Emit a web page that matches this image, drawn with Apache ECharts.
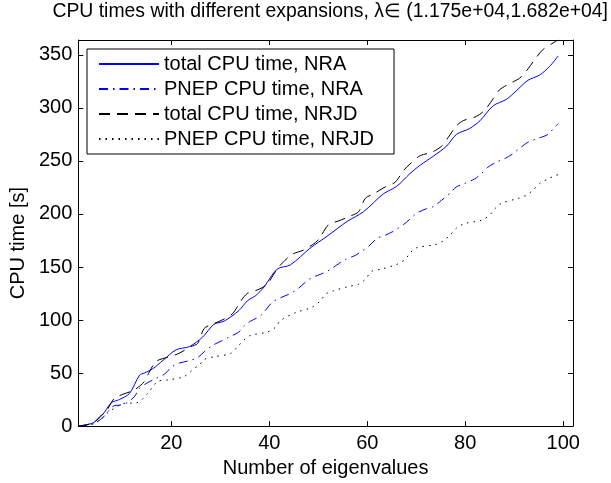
<!DOCTYPE html>
<html>
<head>
<meta charset="utf-8">
<script src="https://cdn.jsdelivr.net/npm/echarts@6/dist/echarts.min.js"></script>
<style>html,body{margin:0;padding:0;background:#fff}#c{width:611px;height:483px}</style>
</head>
<body>
<div id="c"></div>
<script>
// ---- data ----
const seriesNames = ['total CPU time, NRA', 'PNEP CPU time, NRA', 'total CPU time, NRJD', 'PNEP CPU time, NRJD'];
const xTicks = [20, 40, 60, 80, 100];

const totalNRA_x = [1, 4, 6, 7.75, 9.4, 11.5, 13.5, 14.5, 16.2, 18.3, 21, 23.7, 26.4, 28.7, 30.8, 33.8, 35.5, 37.2, 38.9, 41.6, 44.3, 48.4, 51.8, 55.9, 59.2, 63.3, 66, 68.7, 70.8, 73.5, 76.2, 78.2, 80.9, 83, 85.7, 88.4, 90.4, 92.8, 95.2, 97.2, 99];
const totalNRA_y = [0, 3, 11, 22, 25, 31, 48, 50, 54, 62, 72, 75, 84, 96, 99, 109, 118, 123, 131, 148, 152, 168, 179, 193, 202, 219, 226, 238, 246, 254.5, 264, 275, 280.6, 287.8, 302, 308, 316, 326, 331, 339, 349];

const pnepNRA_x = [1, 4, 6, 8.1, 9.8, 11.1, 12.5, 13.5, 15.2, 16.9, 18.6, 20, 21.3, 23.3, 25.4, 26.7, 28.4, 30.1, 31.8, 33.8, 34.8, 36.2, 38.2, 40.6, 42.3, 44, 45.7, 47.7, 48.7, 50.4, 52.5, 53.8, 55.5, 57.6, 58.9, 60.3, 62, 63.7, 65.3, 67.4, 68.7, 70.1, 72.1, 73.5, 75.2, 77.2, 78.2, 79.9, 81.9, 83.3, 84.6, 86.4, 88, 89.7, 91.4, 92.8, 94.5, 96.9, 98.2, 99];
const pnepNRA_y = [0, 2, 8, 18.7, 20, 22.4, 28, 35.7, 41, 45, 49, 55.4, 59, 61.3, 64.7, 70, 76, 80, 84, 88.7, 94, 99, 104, 116.7, 121, 124.4, 129, 137, 140, 143, 147.7, 152, 157, 161, 165, 169.6, 177, 180, 183.6, 190, 195, 200.7, 205, 207, 213, 221, 225.6, 228.7, 233, 238, 244, 249, 252, 256.7, 263, 267.6, 270.7, 275, 281.6, 285];

const totalNRJD_x = [1, 4, 5.4, 6.7, 8.4, 10.1, 12.4, 14.5, 15.5, 16.9, 19.3, 21.3, 24, 25.4, 26.7, 28.4, 30.8, 32.5, 34.2, 35.5, 37.9, 39.6, 41.3, 42.7, 44.7, 47, 48.8, 50.1, 52.1, 54.2, 56.2, 58.2, 59.6, 61.3, 63.7, 65.7, 67.4, 68.7, 70.8, 73.1, 75.2, 76.5, 78.2, 79.6, 82.3, 84, 85.7, 87, 89.1, 91.1, 92.8, 94.1, 95.8, 97.5, 99];
const totalNRJD_y = [0, 3, 9, 14, 26.4, 30, 34, 42, 51, 61, 65, 68, 75, 78, 92, 96, 101, 106, 118, 125, 129, 134, 146, 154, 162, 166, 171, 176, 190, 193.5, 197.5, 202, 214.7, 219, 225.6, 230, 241, 247, 255, 258, 264, 272, 283, 288, 292, 298, 308.6, 317, 323, 328, 336.7, 345, 354.7, 360, 364];

const pnepNRJD_x = [1, 4, 6, 7.1, 10.1, 13.2, 15.2, 17.2, 19.3, 22.6, 24.7, 25.7, 26.7, 28.7, 32.1, 33.5, 34.8, 36.2, 39.6, 41.3, 42.3, 45.4, 48.7, 50.4, 51.5, 53.1, 56.5, 58.2, 59.6, 60.9, 62.6, 66, 67.7, 68.7, 70, 73.8, 75.5, 76.9, 78.2, 79.9, 83.3, 85, 86, 87.4, 90.8, 92.5, 93.8, 95.2, 96.9, 98.5, 99];
const pnepNRJD_y = [0, 2, 7.8, 13, 21, 22.4, 31, 42, 43.5, 46.7, 54.4, 57.6, 62.8, 65.3, 68.4, 74.7, 81, 85.6, 88.7, 93.3, 99.6, 107, 112, 118, 124.4, 127.6, 132, 133.7, 138.4, 146, 147.7, 152.4, 157, 163, 168, 171, 174.5, 180, 186.7, 191, 194, 199, 204.7, 210, 214.7, 217.7, 222.4, 228.7, 233, 236.4, 237];

function pairs(xs, ys) { return xs.map((x, i) => [x, ys[i]]); }

const FONT = '"Liberation Sans", Arial, Helvetica, sans-serif';
const FS = 20;
const chart = echarts.init(document.getElementById('c'), null, {renderer: 'canvas'});

const frameAxisCommon = {
  type: 'value',
  axisLine: {show: true, onZero: false, lineStyle: {color: '#000', width: 1}},
  axisTick: {show: true, inside: true, length: 5, lineStyle: {color: '#000', width: 1}},
  splitLine: {show: false}
};

chart.setOption({
  animation: false,
  backgroundColor: '#fff',
  title: {
    text: 'CPU times with different expansions, λ∈ (1.175e+04,1.682e+04]',
    right: 3, top: 2, padding: 0,
    textStyle: {fontFamily: FONT, fontSize: 19.4, fontWeight: 'normal', color: '#000'}
  },
  grid: {left: 77, right: 38, top: 40, bottom: 53, containLabel: false},
  legend: {
    orient: 'vertical', left: 87, top: 49,
    backgroundColor: '#fff', borderColor: '#000', borderWidth: 1,
    padding: [5, 20, 5, 11], itemWidth: 60, itemHeight: 14, itemGap: 5,
    itemStyle: {opacity: 0},
    textStyle: {fontFamily: FONT, fontSize: FS, color: '#000'},
    data: seriesNames
  },
  xAxis: [
    Object.assign({}, frameAxisCommon, {
      position: 'bottom', min: 1, max: 102,
      name: 'Number of eigenvalues', nameLocation: 'middle', nameGap: 26,
      nameTextStyle: {fontFamily: FONT, fontSize: FS, color: '#000'},
      axisLabel: {customValues: xTicks, margin: 7, fontFamily: FONT, fontSize: FS, color: '#000'},
      axisTick: Object.assign({}, frameAxisCommon.axisTick, {customValues: xTicks})
    }),
    Object.assign({}, frameAxisCommon, {
      position: 'top', min: 1, max: 102,
      axisLabel: {show: false, customValues: xTicks},
      axisTick: Object.assign({}, frameAxisCommon.axisTick, {customValues: xTicks})
    })
  ],
  yAxis: [
    Object.assign({}, frameAxisCommon, {
      position: 'left', min: 0, max: 364, interval: 50,
      name: 'CPU time [s]', nameLocation: 'middle', nameGap: 50, nameRotate: 90,
      nameTextStyle: {fontFamily: FONT, fontSize: FS, color: '#000', padding: [0, 20, 0, 0]},
      axisLabel: {showMaxLabel: false, margin: 6, fontFamily: FONT, fontSize: FS, color: '#000'}
    }),
    Object.assign({}, frameAxisCommon, {
      position: 'right', min: 0, max: 364, interval: 50,
      axisLabel: {show: false}
    })
  ],
  series: [
    {name: seriesNames[0], type: 'line', symbol: 'none', smooth: 0.3, data: pairs(totalNRA_x, totalNRA_y),
     itemStyle: {color: '#0000ff'}, lineStyle: {color: '#0000ff', width: 1, type: 'solid'}},
    {name: seriesNames[1], type: 'line', symbol: 'none', smooth: 0.3, data: pairs(pnepNRA_x, pnepNRA_y),
     itemStyle: {color: '#0000ff'}, lineStyle: {color: '#0000ff', width: 1, type: [9, 5, 1.5, 5]}},
    {name: seriesNames[2], type: 'line', symbol: 'none', smooth: 0.3, data: pairs(totalNRJD_x, totalNRJD_y),
     itemStyle: {color: '#000'}, lineStyle: {color: '#000', width: 1, type: [11, 7]}},
    {name: seriesNames[3], type: 'line', symbol: 'none', smooth: 0.3, data: pairs(pnepNRJD_x, pnepNRJD_y),
     itemStyle: {color: '#000'}, lineStyle: {color: '#000', width: 1, type: [1.5, 5]}}
  ]
});
</script>
</body>
</html>
